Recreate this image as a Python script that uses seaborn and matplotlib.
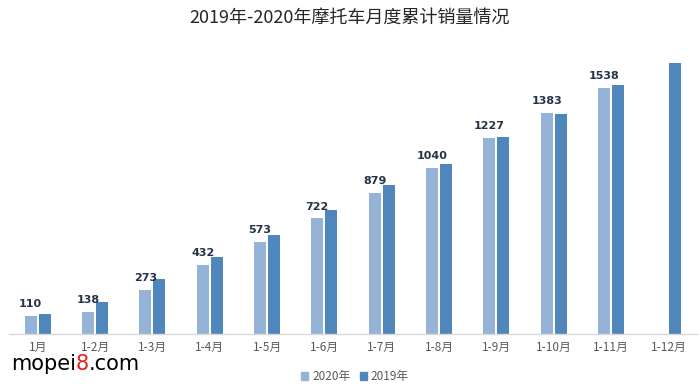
import numpy as np
import pandas as pd
import matplotlib
matplotlib.use("Agg")
import matplotlib.pyplot as plt
import seaborn as sns

# Data
months = ["1月", "1-2月", "1-3月", "1-4月", "1-5月", "1-6月",
          "1-7月", "1-8月", "1-9月", "1-10月", "1-11月", "1-12月"]
sales_2020 = [110, 138, 273, 432, 573, 722, 879, 1040, 1227, 1383, 1538, np.nan]
sales_2019 = [123, 198, 342, 481, 621, 777, 931, 1065, 1229, 1375, 1554, 1696]
series = ["2020年", "2019年"]
colors = ["#95B3D7", "#4F86BC"]

df = pd.DataFrame({
    "month": months * 2,
    "year": [series[0]] * len(months) + [series[1]] * len(months),
    "sales": sales_2020 + sales_2019,
})

sns.set_style("white")
plt.rcParams["font.family"] = ["Noto Sans CJK SC", "DejaVu Sans"]

fig = plt.figure(figsize=(7, 3.86), dpi=100)
ax = fig.add_axes([9 / 700, 0.1347, 688 / 700, 0.7358])

sns.barplot(data=df, x="month", y="sales", hue="year", hue_order=series,
            palette=colors, width=0.49, gap=0.14, ax=ax, legend=False,
            saturation=1, linewidth=0)

# value labels on the 2020 bars
ax.bar_label(ax.containers[0], labels=[f"{v:.0f}" for v in sales_2020[:len(ax.containers[0])]],
             padding=5, fontsize=8, fontweight="bold", color="#243346",
             family="DejaVu Sans")

ax.set_ylim(0, 1775)
ax.set_xlim(-0.5, len(months) - 0.5)
ax.set_xlabel("")
ax.set_ylabel("")
ax.set_yticks([])
ax.tick_params(axis="x", length=0, pad=5, labelsize=8.5, labelcolor="#595959")
for s in ["top", "left", "right"]:
    ax.spines[s].set_visible(False)
ax.spines["bottom"].set_color("#d9d9d9")
ax.spines["bottom"].set_linewidth(1)

# legend
handles = [plt.Rectangle((0, 0), 1, 1, color=c) for c in colors]
fig.legend(handles, series, loc="center", bbox_to_anchor=(0.507, 0.024),
           ncol=2, frameon=False, fontsize=8.5, labelcolor="#595959",
           handlelength=0.6, handleheight=0.6, handletextpad=0.3,
           columnspacing=0.8)

fig.text(0.5, 0.953, "2019年-2020年摩托车月度累计销量情况", ha="center",
         va="center", fontsize=13, color="#262626")

# watermark
t1 = fig.text(11 / 700, 1 - 370 / 386, "mopei", fontsize=15, va="baseline",
              family="DejaVu Sans", color="black")
t2 = ax.annotate("8", xy=(1, 0), xycoords=t1, va="bottom", ha="left",
                 fontsize=15, family="DejaVu Sans", color="#e0201b",
                 annotation_clip=False)
ax.annotate(".com", xy=(1, 0), xycoords=t2, va="bottom", ha="left",
            fontsize=15, family="DejaVu Sans", color="black",
            annotation_clip=False)

plt.savefig("out.png", dpi=100)
